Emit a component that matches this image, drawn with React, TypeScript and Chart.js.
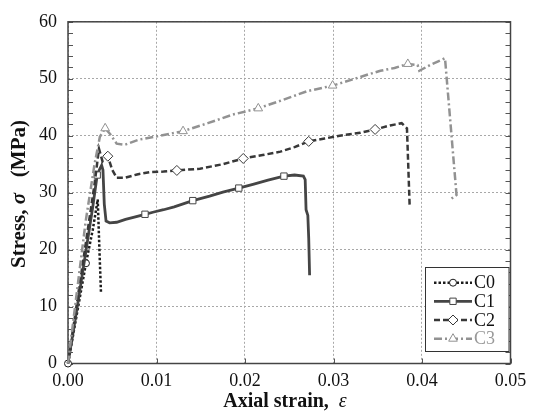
import React, { useEffect, useRef } from 'react';
import { Chart, registerables } from 'chart.js';
import { drawPoint } from 'chart.js/helpers';

Chart.register(...registerables);

// ---- data (strain, stress in MPa) ----
const C0_STRAIN = [0, 0.00203, 0.0028, 0.00336, 0.00355, 0.00373];
const C0_STRESS = [0, 17.6, 23.5, 28.8, 20.0, 12.3];
const C0_MARKS = [0, 1];

const C1_STRAIN = [0, 0.001, 0.002, 0.0028, 0.0033, 0.0036, 0.0038, 0.00395, 0.0041, 0.0043, 0.0047, 0.0055, 0.0065, 0.0075, 0.0087, 0.0097, 0.0108, 0.012, 0.0141, 0.016, 0.0175, 0.0193, 0.021, 0.0226, 0.0244, 0.0256, 0.0266, 0.0268, 0.0269, 0.0271, 0.0272, 0.0273];
const C1_STRESS = [0, 9.5, 19.5, 27.5, 33.1, 34.2, 34.8, 34.0, 28.0, 25.0, 24.7, 24.8, 25.3, 25.7, 26.2, 26.6, 27.0, 27.5, 28.6, 29.4, 30.1, 30.8, 31.5, 32.2, 32.9, 33.1, 32.9, 32.3, 27.0, 26.0, 22.0, 15.5];
const C1_MARKS = [4, 14, 18, 21, 24];

const C2_STRAIN = [0, 0.001, 0.002, 0.003, 0.0035, 0.0039, 0.0045, 0.005, 0.0055, 0.0064, 0.0078, 0.0093, 0.0108, 0.0123, 0.0149, 0.0175, 0.0198, 0.022, 0.024, 0.0256, 0.0272, 0.029, 0.0307, 0.033, 0.0347, 0.0364, 0.0377, 0.0383, 0.0386];
const C2_STRESS = [0, 10.5, 21, 31.5, 37.7, 35.5, 36.4, 34.0, 32.6, 32.6, 33.2, 33.6, 33.7, 33.9, 34.2, 35.0, 36.0, 36.6, 37.2, 38.0, 39.0, 39.5, 40.0, 40.5, 41.1, 41.8, 42.2, 41.3, 27.9];
const C2_MARKS = [6, 13, 16, 20, 24];

const C3_STRAIN = [0, 0.001, 0.002, 0.003, 0.0036, 0.0042, 0.0048, 0.0055, 0.0064, 0.008, 0.0101, 0.013, 0.0158, 0.0186, 0.0215, 0.0243, 0.027, 0.0299, 0.032, 0.0338, 0.0353, 0.0369, 0.0384, 0.0395, 0.0397, 0.0409, 0.0426, 0.0439, 0.0432];
const C3_STRESS = [0, 12.5, 25, 35, 39.8, 41.3, 40.2, 38.6, 38.4, 39.3, 39.9, 40.8, 42.2, 43.7, 44.8, 46.3, 47.8, 48.8, 49.8, 50.7, 51.4, 51.9, 52.6, 52.4, 51.4, 52.4, 53.6, 29.6, 28.8];
const C3_MARKS = [5, 11, 14, 17, 22];

const SERIES_NAMES = ['C0', 'C1', 'C2', 'C3'];
const X_TICKS = [0, 0.01, 0.02, 0.03, 0.04, 0.05];
const Y_TICKS = [0, 10, 20, 30, 40, 50, 60];

const FONT = '"Liberation Serif", "Times New Roman", serif';

const STYLES = [
  { color: '#1c1c1c', text: '#111', dash: [2.5, 2], width: 2.5, point: 'circle', r: 3.5 },
  { color: '#454545', text: '#111', dash: [], width: 2.8, point: 'rect', r: 4.5 },
  { color: '#383838', text: '#111', dash: [6, 3], width: 2.5, point: 'rectRot', r: 5 },
  { color: '#929292', text: '#999', dash: [8, 3, 2, 3], width: 2.5, point: 'triangle', r: 5 },
];

function pts(xs: number[], ys: number[]) {
  return xs.map((x, i) => ({ x, y: ys[i] }));
}

const framePlugin = {
  id: 'frame',
  beforeDatasetsDraw(chart: any) {
    const { ctx, chartArea: a, scales } = chart;
    const x = scales.x, y = scales.y;
    ctx.save();
    ctx.strokeStyle = '#555';
    ctx.lineWidth = 1;
    for (let v = 0; v <= 60; v += 2) {
      const py = Math.round(y.getPixelForValue(v)) + 0.5;
      const len = 5;
      ctx.beginPath();
      ctx.moveTo(a.left, py); ctx.lineTo(a.left + len, py);
      ctx.moveTo(a.right, py); ctx.lineTo(a.right - len, py);
      ctx.stroke();
    }
    X_TICKS.forEach((v) => {
      const px = Math.round(x.getPixelForValue(v)) + 0.5;
      ctx.beginPath();
      ctx.moveTo(px, a.bottom); ctx.lineTo(px, a.bottom - 5);
      ctx.stroke();
    });
    ctx.lineWidth = 1.5;
    ctx.strokeStyle = '#444';
    ctx.strokeRect(a.left, a.top, a.right - a.left, a.bottom - a.top);
    ctx.restore();
  },
  afterDraw(chart: any) {
    const { ctx } = chart;
    ctx.save();
    ctx.fillStyle = '#111';
    ctx.textBaseline = 'middle';
    // x title
    const xParts: [string, string][] = [
      ['Axial strain,  ', `bold 20px ${FONT}`],
      ['ε', `italic 20px ${FONT}`],
    ];
    let tw = 0;
    xParts.forEach(([t, f]) => { ctx.font = f; tw += ctx.measureText(t).width; });
    let cx = 285 - tw / 2;
    xParts.forEach(([t, f]) => { ctx.font = f; ctx.textAlign = 'left'; ctx.fillText(t, cx, 402); cx += ctx.measureText(t).width; });
    // y title
    const yParts: [string, string][] = [
      ['Stress, ', `bold 21px ${FONT}`],
      ['σ', `bold italic 21px ${FONT}`],
      ['   (MPa)', `bold 21px ${FONT}`],
    ];
    tw = 0;
    yParts.forEach(([t, f]) => { ctx.font = f; tw += ctx.measureText(t).width; });
    ctx.translate(20, 194);
    ctx.rotate(-Math.PI / 2);
    cx = -tw / 2;
    yParts.forEach(([t, f]) => { ctx.font = f; ctx.textAlign = 'left'; ctx.fillText(t, cx, 0); cx += ctx.measureText(t).width; });
    ctx.restore();

    // legend
    ctx.save();
    const lx = 425.5, ly = 267.5, lw = 83.5, lh = 84;
    ctx.fillStyle = '#fff';
    ctx.fillRect(lx, ly, lw, lh);
    ctx.strokeStyle = '#333';
    ctx.lineWidth = 1;
    ctx.strokeRect(lx, ly, lw, lh);
    const rows = [282.7, 301.3, 320, 338.7];
    SERIES_NAMES.forEach((name, i) => {
      const s = STYLES[i];
      const yy = rows[i];
      ctx.strokeStyle = s.color;
      ctx.lineWidth = s.width;
      ctx.setLineDash(s.dash);
      ctx.beginPath();
      ctx.moveTo(434, yy); ctx.lineTo(472, yy);
      ctx.stroke();
      ctx.setLineDash([]);
      ctx.fillStyle = '#fff';
      ctx.strokeStyle = s.color;
      ctx.lineWidth = 1;
      drawPoint(ctx, { pointStyle: s.point, radius: s.r, rotation: 0, borderWidth: 1 } as any, 453, yy);
      ctx.fillStyle = s.text;
      ctx.font = `18px ${FONT}`;
      ctx.textAlign = 'left';
      ctx.textBaseline = 'middle';
      ctx.fillText(name, 474, yy + 1);
    });
    ctx.restore();
  },
};

export default function App() {
  const ref = useRef<HTMLCanvasElement | null>(null);
  useEffect(() => {
    if (!ref.current) return;
    const all = [
      [C0_STRAIN, C0_STRESS, C0_MARKS],
      [C1_STRAIN, C1_STRESS, C1_MARKS],
      [C2_STRAIN, C2_STRESS, C2_MARKS],
      [C3_STRAIN, C3_STRESS, C3_MARKS],
    ] as [number[], number[], number[]][];
    const datasets = all.map(([xs, ys, marks], i) => {
      const s = STYLES[i];
      return {
        label: SERIES_NAMES[i],
        data: pts(xs, ys),
        showLine: true,
        borderColor: s.color,
        borderWidth: s.width,
        borderDash: s.dash,
        tension: 0,
        fill: false,
        clip: false,
        pointStyle: s.point,
        pointRadius: (c: any) => (marks.includes(c.dataIndex) ? s.r : 0),
        pointHoverRadius: 0,
        pointBackgroundColor: '#fff',
        pointBorderColor: s.color,
        pointBorderWidth: 1,
      };
    }).reverse();
    const chart = new Chart(ref.current, {
      type: 'scatter',
      data: { datasets: datasets as any },
      plugins: [framePlugin],
      options: {
        responsive: false,
        animation: false,
        events: [],
        layout: { padding: { top: 12, right: 26.5, left: 0, bottom: 0 } },
        plugins: { legend: { display: false }, tooltip: { enabled: false } },
        scales: {
          x: {
            type: 'linear',
            min: 0,
            max: 0.05,
            afterBuildTicks: (sc: any) => { sc.ticks = X_TICKS.map((v) => ({ value: v })); },
            afterFit: (sc: any) => { sc.height = 54.5; },
            ticks: {
              padding: 7,
              color: '#111',
              font: { family: FONT, size: 18 },
              callback: (v: any) => Number(v).toFixed(2),
              maxRotation: 0,
            },
            grid: { color: '#a8a8a8', lineWidth: 1, drawTicks: false },
            border: { display: false, dash: [2, 2] },
          },
          y: {
            type: 'linear',
            min: 0,
            max: 60,
            afterBuildTicks: (sc: any) => { sc.ticks = Y_TICKS.map((v) => ({ value: v })); },
            afterFit: (sc: any) => { sc.width = 68; },
            ticks: {
              padding: 11,
              color: '#111',
              font: { family: FONT, size: 18 },
            },
            grid: { color: '#a8a8a8', lineWidth: 1, drawTicks: false },
            border: { display: false, dash: [2, 2] },
          },
        },
      },
    });
    return () => chart.destroy();
  }, []);
  return (
    <div style={{ position: 'absolute', left: 0, top: 0, width: 537, height: 418, background: '#fff' }}>
      <canvas ref={ref} width={537} height={418} style={{ display: 'block' }} />
    </div>
  );
}
